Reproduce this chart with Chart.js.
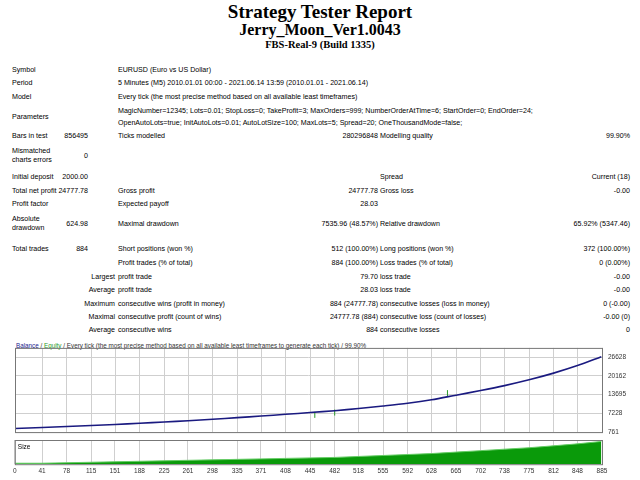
<!DOCTYPE html>
<html>
<head>
<meta charset="utf-8">
<script src="https://cdn.jsdelivr.net/npm/chart.js@4/dist/chart.umd.min.js"></script>
<style>
  body { margin: 0; width: 640px; height: 480px; background: #fff; position: relative; overflow: hidden; font-family: "Liberation Sans", Arial, sans-serif; }
  .t { position: absolute; font-size: 7.1px; color: #000; white-space: nowrap; line-height: 9px; }
  .r { text-align: right; }
  .h { position: absolute; left: 0; width: 640px; text-align: center; font-family: "Liberation Serif", serif; font-weight: bold; }
  #c1 { position: absolute; left: 10px; top: 338px; }
  #c2 { position: absolute; left: 10px; top: 440px; }
  #leg { position: absolute; left: 16px; top: 342px; font-size: 6.3px; color: #333; white-space: nowrap; }
</style>
</head>
<body>
<div class="h" style="top:1px;font-size:19px;">Strategy Tester Report</div>
<div class="h" style="top:21px;font-size:16px;">Jerry_Moon_Ver1.0043</div>
<div class="h" style="top:39px;font-size:10.5px;">FBS-Real-9 (Build 1335)</div>
<div id="rows"></div>
<div id="leg"><span style="color:#1a1a8c">Balance</span> / <span style="color:#2a9a2a">Equity</span> / Every tick (the most precise method based on all available least timeframes to generate each tick) / 99.90%</div>
<canvas id="c1" width="628" height="104"></canvas>
<canvas id="c2" width="628" height="38"></canvas>
<script>
const trades = [0, 41, 78, 115, 151, 188, 225, 261, 298, 335, 371, 408, 445, 482, 518, 555, 592, 628, 665, 702, 738, 775, 812, 848, 884];
const balance = [2000, 2350, 2700, 3050, 3400, 3800, 4250, 4700, 5200, 5750, 6300, 6900, 7500, 8150, 8900, 9750, 10700, 11900, 13500, 15100, 16800, 18800, 21100, 23700, 26778];
const equityMarks = [{ x: 452, y: 6700 }, { x: 482, y: 7500 }, { x: 652, y: 14200 }];
const lots = [0.02, 0.02, 0.03, 0.04, 0.05, 0.06, 0.07, 0.08, 0.09, 0.1, 0.11, 0.12, 0.13, 0.14, 0.16, 0.18, 0.2, 0.22, 0.25, 0.28, 0.31, 0.34, 0.38, 0.42, 0.47];
const balanceTicks = [761, 7228, 13695, 20162, 26628];
const xTicks = [0, 41, 78, 115, 151, 188, 225, 261, 298, 335, 371, 408, 445, 482, 518, 555, 592, 628, 665, 702, 738, 775, 812, 848, 885];

// report rows: [top, text, left/right, x]
const cells = [
  [66, 'Symbol', 'l', 12], [66, 'EURUSD (Euro vs US Dollar)', 'l', 118],
  [79, 'Period', 'l', 12], [79, '5 Minutes (M5) 2010.01.01 00:00 - 2021.06.14 13:59 (2010.01.01 - 2021.06.14)', 'l', 118],
  [93, 'Model', 'l', 12], [93, 'Every tick (the most precise method based on all available least timeframes)', 'l', 118],
  [113, 'Parameters', 'l', 12],
  [107, 'MagicNumber=12345; Lots=0.01; StopLoss=0; TakeProfit=3; MaxOrders=999; NumberOrderAtTime=6; StartOrder=0; EndOrder=24;', 'l', 118],
  [119, 'OpenAutoLots=true; InitAutoLots=0.01; AutoLotSize=100; MaxLots=5; Spread=20; OneThousandMode=false;', 'l', 118],
  [132, 'Bars in test', 'l', 12], [132, '856495', 'r', 88], [132, 'Ticks modelled', 'l', 118], [132, '280296848', 'r', 378], [132, 'Modelling quality', 'l', 380], [132, '99.90%', 'r', 630],
  [147, 'Mismatched', 'l', 12], [156, 'charts errors', 'l', 12], [152, '0', 'r', 88],
  [173, 'Initial deposit', 'l', 12], [173, '2000.00', 'r', 88], [173, 'Spread', 'l', 380], [173, 'Current (18)', 'r', 630],
  [187, 'Total net profit', 'l', 12], [187, '24777.78', 'r', 88], [187, 'Gross profit', 'l', 118], [187, '24777.78', 'r', 378], [187, 'Gross loss', 'l', 380], [187, '-0.00', 'r', 630],
  [200, 'Profit factor', 'l', 12], [200, 'Expected payoff', 'l', 118], [200, '28.03', 'r', 378],
  [215, 'Absolute', 'l', 12], [224, 'drawdown', 'l', 12], [220, '624.98', 'r', 88], [220, 'Maximal drawdown', 'l', 118], [220, '7535.96 (48.57%)', 'r', 378], [220, 'Relative drawdown', 'l', 380], [220, '65.92% (5347.46)', 'r', 630],
  [245, 'Total trades', 'l', 12], [245, '884', 'r', 88], [245, 'Short positions (won %)', 'l', 118], [245, '512 (100.00%)', 'r', 378], [245, 'Long positions (won %)', 'l', 380], [245, '372 (100.00%)', 'r', 630],
  [259, 'Profit trades (% of total)', 'l', 118], [259, '884 (100.00%)', 'r', 378], [259, 'Loss trades (% of total)', 'l', 380], [259, '0 (0.00%)', 'r', 630],
  [273, 'Largest', 'r', 115], [273, 'profit trade', 'l', 118], [273, '79.70', 'r', 378], [273, 'loss trade', 'l', 380], [273, '-0.00', 'r', 630],
  [286, 'Average', 'r', 115], [286, 'profit trade', 'l', 118], [286, '28.03', 'r', 378], [286, 'loss trade', 'l', 380], [286, '-0.00', 'r', 630],
  [300, 'Maximum', 'r', 115], [300, 'consecutive wins (profit in money)', 'l', 118], [300, '884 (24777.78)', 'r', 378], [300, 'consecutive losses (loss in money)', 'l', 380], [300, '0 (-0.00)', 'r', 630],
  [313, 'Maximal', 'r', 115], [313, 'consecutive profit (count of wins)', 'l', 118], [313, '24777.78 (884)', 'r', 378], [313, 'consecutive loss (count of losses)', 'l', 380], [313, '-0.00 (0)', 'r', 630],
  [326, 'Average', 'r', 115], [326, 'consecutive wins', 'l', 118], [326, '884', 'r', 378], [326, 'consecutive losses', 'l', 380], [326, '0', 'r', 630]
];

const rows = document.getElementById('rows');
cells.forEach(([top, text, side, x]) => {
  const d = document.createElement('div');
  d.className = 't';
  d.textContent = text;
  d.style.top = top + 'px';
  if (side === 'r') { d.classList.add('r'); d.style.right = (640 - x) + 'px'; }
  else d.style.left = x + 'px';
  rows.appendChild(d);
});

const frame = {
  id: 'frame',
  afterDraw(chart) {
    const a = chart.chartArea, ctx = chart.ctx;
    ctx.save();
    ctx.strokeStyle = '#777';
    ctx.lineWidth = 1;
    ctx.strokeRect(a.left + 0.5, a.top + 0.5, a.right - a.left, a.bottom - a.top);
    if (chart.canvas.id === 'c2') {
      ctx.fillStyle = '#000';
      ctx.font = '6.5px "Liberation Sans", Arial';
      ctx.fillText('Size', a.left + 3, a.top + 9);
    }
    ctx.restore();
  }
};

const grid = { color: '#cfcfcf', borderDash: [2, 2], drawTicks: false };
const tickFont = { family: '"Liberation Sans", Arial', size: 6.5 };

new Chart(document.getElementById('c1'), {
  type: 'line',
  data: {
    datasets: [
      { data: trades.map((t, i) => ({ x: t, y: balance[i] })), borderColor: '#1a1a80', borderWidth: 1.6, pointRadius: 0, tension: 0.3 },
      { type: 'scatter', data: equityMarks, borderColor: '#2a9a2a', backgroundColor: '#2a9a2a', pointStyle: 'line', rotation: 90, pointRadius: 3, borderWidth: 1 }
    ]
  },
  options: {
    responsive: false, animation: false,
    layout: { padding: { left: 3, top: 2, right: 0, bottom: 0 } },
    plugins: { legend: { display: false }, tooltip: { enabled: false } },
    scales: {
      x: { type: 'linear', min: 0, max: 885, grid, border: { display: false },
           afterBuildTicks: s => { s.ticks = xTicks.map(v => ({ value: v })); }, ticks: { display: false } },
      y: { position: 'right', min: 761, max: 29800, grid, border: { display: false },
           afterBuildTicks: s => { s.ticks = balanceTicks.map(v => ({ value: v })); },
           afterFit: s => { s.width = 36; },
           ticks: { font: tickFont, color: '#333', padding: 6, callback: v => v } }
    }
  },
  plugins: [frame]
});

new Chart(document.getElementById('c2'), {
  type: 'line',
  data: {
    datasets: [
      { data: trades.map((t, i) => ({ x: t, y: lots[i] })), borderColor: '#66cc66', backgroundColor: '#0a9a0a', borderWidth: 1, pointRadius: 0, fill: 'origin' }
    ]
  },
  options: {
    responsive: false, animation: false,
    layout: { padding: { left: 3, top: 0, right: 0, bottom: 0 } },
    plugins: { legend: { display: false }, tooltip: { enabled: false } },
    scales: {
      x: { type: 'linear', min: 0, max: 885, grid, border: { display: false },
           afterBuildTicks: s => { s.ticks = xTicks.map(v => ({ value: v })); },
           ticks: { font: tickFont, color: '#333', padding: 3, maxRotation: 0, autoSkip: false, callback: v => v } },
      y: { position: 'right', min: 0, max: 0.5, grid: { display: false }, border: { display: false },
           afterFit: s => { s.width = 36; }, ticks: { display: false } }
    }
  },
  plugins: [frame]
});
</script>
</body>
</html>
